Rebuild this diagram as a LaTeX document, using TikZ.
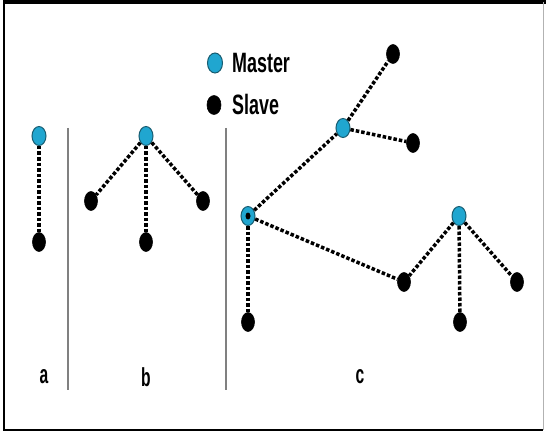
\documentclass[tikz,border=0pt]{standalone}
\usepackage{fontspec}
\setmainfont{Liberation Sans}
\usetikzlibrary{shapes.geometric}
\definecolor{mastercyan}{RGB}{32,166,208}
\definecolor{masteredge}{RGB}{24,92,112}
\definecolor{sepgray}{RGB}{128,128,128}
\tikzset{
  slavenode/.style={ellipse, fill=black, draw=black, line width=0.6pt,
    minimum width=13pt, minimum height=19pt, inner sep=0pt},
  masternode/.style={ellipse, fill=mastercyan, draw=masteredge, line width=1pt,
    minimum width=14pt, minimum height=19pt, inner sep=0pt},
  link/.style={draw=black, line width=3.5pt, dash pattern=on 3.5pt off 2pt},
  separator/.style={draw=sepgray, line width=1.2pt},
  legendtext/.style={anchor=west, inner sep=0pt, font=\fontsize{28}{32}\selectfont\bfseries},
  parttext/.style={inner sep=0pt, font=\fontsize{26}{30}\selectfont\bfseries},
}
\newcommand{\narrow}[1]{\scalebox{0.64}[1]{#1}}
\begin{document}
\begin{tikzpicture}[x=1pt,y=-1pt]
  \useasboundingbox (0,0) rectangle (546,433);
  % outer frame
  \fill[white] (0,0) rectangle (546,433);
  \draw[black, line width=2pt] (4,430) -- (4,2);
  \draw[black, line width=3.5pt] (3,2) -- (546,2);
  \draw[black, line width=2.5pt] (3,430) -- (543,430);
  \draw[gray!60, line width=1pt] (543,2) -- (543,430);

  % legend
  \node[masternode, minimum width=15pt, minimum height=20pt] (legm) at (215,63) {};
  \node[legendtext] (legmt) at (232,63) {\narrow{Master}};
  \node[slavenode, minimum width=14pt, minimum height=19pt] (legs) at (214,105) {};
  \node[legendtext] (legst) at (232,104) {\narrow{Slave}};

  % separators
  \coordinate (s1t) at (68,128);
  \coordinate (s1b) at (68,390);
  \coordinate (s2t) at (226,128);
  \coordinate (s2b) at (226,390);
  \draw[separator] (s1t) -- (s1b);
  \draw[separator] (s2t) -- (s2b);

  % part a: one master, one slave
  \node[masternode] (am) at (39,136) {};
  \node[slavenode] (as) at (39,242) {};
  \draw[link] (am) -- (as);

  % part b: one master, three slaves
  \node[masternode] (bm) at (146,136) {};
  \node[slavenode] (bs1) at (91,201) {};
  \node[slavenode] (bs2) at (146,242) {};
  \node[slavenode] (bs3) at (203,201) {};
  \draw[link] (bm) -- (bs1);
  \draw[link] (bm) -- (bs2);
  \draw[link] (bm) -- (bs3);

  % part c: scatternet
  \node[masternode] (cm0) at (248,216) {};
  \node[ellipse, fill=black, minimum width=5pt, minimum height=7pt, inner sep=0pt] (cm0dot) at (cm0) {};
  \node[slavenode] (cs0) at (248,322) {};
  \node[masternode] (cm1) at (343,128) {};
  \node[slavenode] (cs1) at (393,54) {};
  \node[slavenode] (cs2) at (413,143) {};
  \node[slavenode] (cs3) at (404,282) {};
  \node[masternode] (cm2) at (459,216) {};
  \node[slavenode] (cs4) at (460,322) {};
  \node[slavenode] (cs5) at (517,282) {};
  \draw[link] (cm0) -- (cs0);
  \draw[link] (cm0) -- (cm1);
  \draw[link] (cm1) -- (cs1);
  \draw[link] (cm1) -- (cs2);
  \draw[link] (cm0) -- (cs3);
  \draw[link] (cm2) -- (cs3);
  \draw[link] (cm2) -- (cs4);
  \draw[link] (cm2) -- (cs5);

  % part labels
  \node[parttext] (la) at (44,377) {\scalebox{0.6}[1]{a}};
  \node[parttext] (lb) at (146,377) {\scalebox{0.6}[1]{b}};
  \node[parttext] (lc) at (360,377) {\scalebox{0.6}[1]{c}};
\end{tikzpicture}
\end{document}
